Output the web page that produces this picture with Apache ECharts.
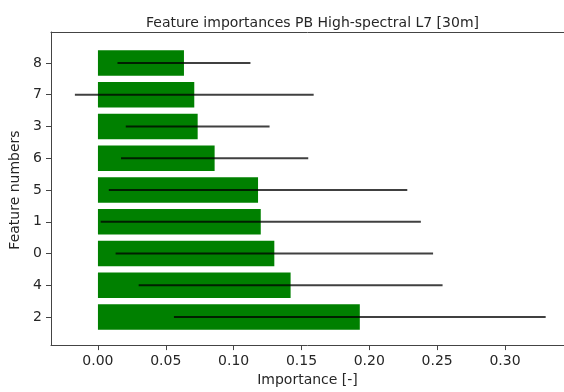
<!DOCTYPE html>
<html>
<head>
<meta charset="utf-8">
<script src="https://cdn.jsdelivr.net/npm/echarts@6/dist/echarts.min.js"></script>
<style>
  html, body { margin: 0; padding: 0; background: #fff; }
  #chart { width: 564px; height: 392px; }
</style>
</head>
<body>
<div id="chart"></div>
<script>
// 数据（从下到上）
const features = ['2', '4', '0', '1', '5', '6', '3', '7', '8'];
const importances = [0.193, 0.142, 0.130, 0.120, 0.118, 0.086, 0.0735, 0.071, 0.0634];
const stdDevs = [0.137, 0.112, 0.117, 0.118, 0.110, 0.069, 0.053, 0.088, 0.049];

const textColor = '#262626';
const lineColor = '#444';
const fontFamily = 'DejaVu Sans';

// 误差线数据
const errorData = features.map((f, i) => [i, importances[i] - stdDevs[i], importances[i] + stdDevs[i]]);

const xMin = -0.0346;
const xMax = 0.3435;

const chart = echarts.init(document.getElementById('chart'));
const option = {
    animation: false,
    backgroundColor: '#fff',
    title: {
        text: 'Feature importances PB High-spectral L7 [30m]',
        left: 141,
        top: 11,
        textStyle: { fontFamily: fontFamily, fontSize: 14, fontWeight: 'normal', color: textColor }
    },
    grid: [
        // 数据区
        { left: 51, right: 0, top: 47.1, bottom: 59.1 },
        // 外框（右侧被裁掉）
        { left: 51, right: 0, top: 32, bottom: 44 }
    ],
    xAxis: [
        {
            gridIndex: 0, type: 'value', min: xMin, max: xMax, show: false
        },
        {
            gridIndex: 1, type: 'value', min: xMin, max: xMax, splitNumber: 8,
            name: 'Importance [-]', nameLocation: 'middle', nameGap: 26,
            nameTextStyle: { fontFamily: fontFamily, fontSize: 14, color: textColor },
            axisLine: { show: true, onZero: false, lineStyle: { color: lineColor, width: 1 } },
            axisTick: { show: true, length: 5, lineStyle: { color: lineColor } },
            axisLabel: {
                margin: 9, fontFamily: fontFamily, fontSize: 14, color: textColor,
                showMinLabel: false, showMaxLabel: false,
                formatter: v => {
                    const k = Math.round(v / 0.05);
                    return Math.abs(v - k * 0.05) < 1e-6 ? v.toFixed(2) : '';
                }
            },
            splitLine: { show: false }
        },
        {
            // 顶部边框
            gridIndex: 1, type: 'value', min: xMin, max: xMax, position: 'top',
            axisLine: { show: true, onZero: false, lineStyle: { color: lineColor, width: 1 } },
            axisTick: { show: false }, axisLabel: { show: false }, splitLine: { show: false }
        }
    ],
    yAxis: [
        {
            gridIndex: 0, type: 'category', data: features,
            name: 'Feature numbers', nameLocation: 'middle', nameGap: 25, nameRotate: 90,
            nameTextStyle: { fontFamily: fontFamily, fontSize: 14, color: textColor },
            axisLine: { show: true, onZero: false, lineStyle: { color: lineColor, width: 1 } },
            axisTick: { show: true, alignWithLabel: true, length: 5, lineStyle: { color: lineColor } },
            axisLabel: { margin: 9, fontFamily: fontFamily, fontSize: 14, color: textColor },
            splitLine: { show: false }
        },
        {
            // 左侧边框
            gridIndex: 1, type: 'value', min: 0, max: 1,
            axisLine: { show: true, onZero: false, lineStyle: { color: lineColor, width: 1 } },
            axisTick: { show: false }, axisLabel: { show: false }, splitLine: { show: false }
        }
    ],
    series: [
        {
            type: 'bar',
            xAxisIndex: 0, yAxisIndex: 0,
            data: importances,
            barCategoryGap: '20%',
            itemStyle: { color: '#008000' }
        },
        {
            type: 'custom',
            xAxisIndex: 0, yAxisIndex: 0,
            data: errorData,
            encode: { y: 0, x: [1, 2] },
            z: 5,
            renderItem: (params, api) => {
                const y = api.value(0);
                const p1 = api.coord([api.value(1), y]);
                const p2 = api.coord([api.value(2), y]);
                return {
                    type: 'line',
                    shape: { x1: p1[0], y1: p1[1], x2: p2[0], y2: p2[1] },
                    style: { stroke: 'rgba(0,0,0,0.75)', lineWidth: 2 }
                };
            }
        }
    ]
};
chart.setOption(option);
</script>
</body>
</html>
